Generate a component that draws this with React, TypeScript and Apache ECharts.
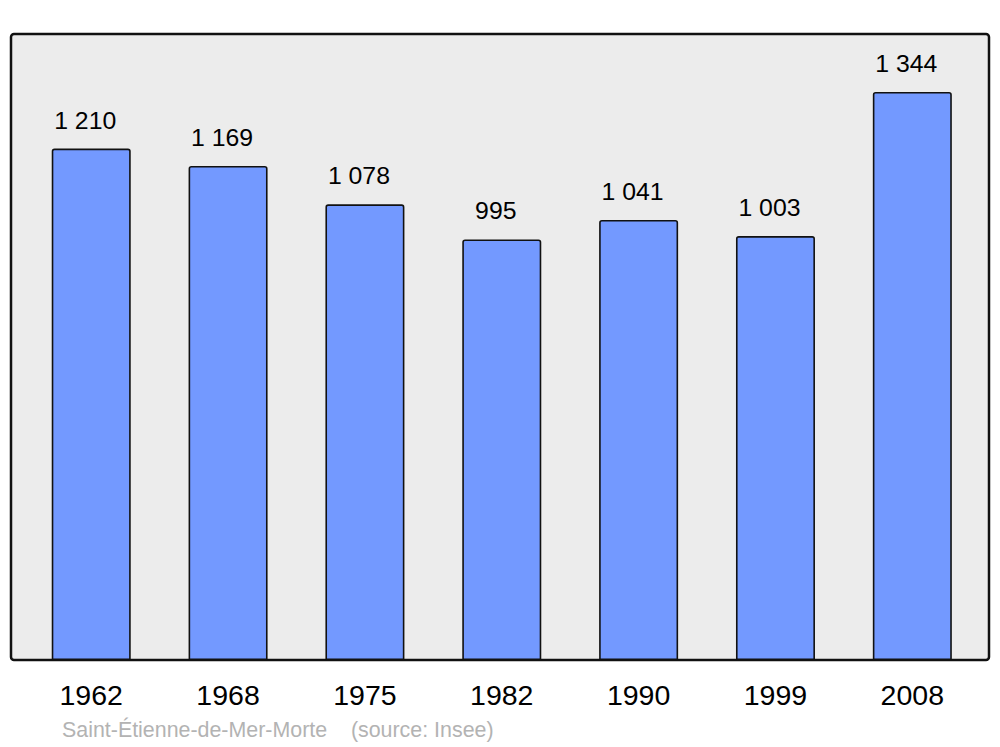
import React, { useEffect, useRef } from "react";
import * as echarts from "echarts";

const years = ["1962", "1968", "1975", "1982", "1990", "1999", "2008"];
const population = [1210, 1169, 1078, 995, 1041, 1003, 1344];
const footerName = "Saint-Étienne-de-Mer-Morte";
const footerSource = "(source: Insee)";

const fmt = (v: number) => {
  const s = String(v);
  return s.length > 3 ? s.slice(0, s.length - 3) + " " + s.slice(s.length - 3) : s;
};

export default function App() {
  const ref = useRef<HTMLDivElement>(null);
  useEffect(() => {
    const chart = echarts.init(ref.current!, null, { renderer: "svg" });
    chart.setOption({
      animation: false,
      textStyle: { fontFamily: "Liberation Sans, Arial, sans-serif" },
      grid: { left: 22.8, right: 19.25, top: 34, bottom: 87, containLabel: false },
      xAxis: {
        type: "category",
        data: years,
        axisLine: { show: false },
        axisTick: { show: false },
        axisLabel: { color: "#000", fontSize: 28.5, margin: 20, fontFamily: "Liberation Sans, Arial, sans-serif" },
      },
      yAxis: { type: "value", min: 0, max: 1481, show: false, splitLine: { show: false } },
      graphic: [
        {
          type: "rect",
          z: -10,
          shape: { x: 11, y: 34, width: 978, height: 626, r: 3 },
          style: { fill: "#ececec", stroke: "#111", lineWidth: 2.5 },
        },
        {
          type: "text",
          x: 62,
          y: 730,
          style: {
            text: footerName + "    " + footerSource,
            fill: "#b3b3b3",
            fontSize: 21.4,
            fontFamily: "Liberation Sans, Arial, sans-serif",
            verticalAlign: "middle",
          },
        },
      ],
      series: [
        {
          type: "bar",
          data: population,
          barWidth: 79,
          itemStyle: { color: "#7399ff", borderColor: "#111", borderWidth: 1.6, borderRadius: [2, 2, 0, 0] },
          label: {
            show: true,
            position: "top",
            distance: 16,
            offset: [-6, 0],
            color: "#000",
            fontSize: 24.8,
            fontFamily: "Liberation Sans, Arial, sans-serif",
            formatter: (p: any) => fmt(p.value),
          },
        },
      ],
    });
    return () => chart.dispose();
  }, []);
  return <div ref={ref} style={{ width: 1000, height: 747, position: "absolute", left: 0, top: 0 }} />;
}
